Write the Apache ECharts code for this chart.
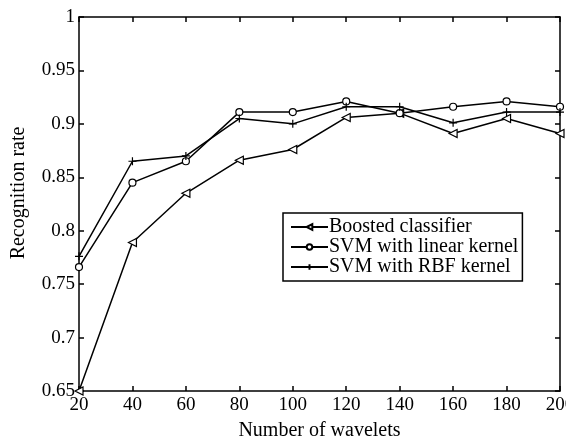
<!DOCTYPE html>
<html>
<head>
<meta charset="utf-8">
<script src="https://cdn.jsdelivr.net/npm/echarts@6/dist/echarts.min.js"></script>
<style>html,body{margin:0;padding:0;background:#fff}#c{width:566px;height:441px}</style>
</head>
<body>
<div id="c"></div>
<script>
var wavelets = [20, 40, 60, 80, 100, 120, 140, 160, 180, 200];
var boosted = [0.65, 0.789, 0.835, 0.866, 0.876, 0.906, 0.910, 0.891, 0.905, 0.891];
var svmLinear = [0.766, 0.845, 0.865, 0.911, 0.911, 0.921, 0.910, 0.916, 0.921, 0.916];
var svmRbf = [0.776, 0.865, 0.870, 0.905, 0.900, 0.916, 0.916, 0.901, 0.911, 0.911];
var seriesNames = ['Boosted classifier', 'SVM with linear kernel', 'SVM with RBF kernel'];
var xTitle = 'Number of wavelets';
var yTitle = 'Recognition rate';

function pairs(ys) { return wavelets.map(function (x, i) { return [x, ys[i]]; }); }
var font = 'Liberation Serif';
var plusPath = 'path://M0,-10L0,10M-10,0L10,0';

var chart = echarts.init(document.getElementById('c'));
var axisCommon = {
  axisLine: { lineStyle: { color: '#000', width: 1.5 } },
  axisTick: { inside: true, length: 5, lineStyle: { color: '#000', width: 1.5 } },
  splitLine: { show: false }
};
chart.setOption({
  animation: false,
  backgroundColor: '#fff',
  grid: { left: 79, right: 6, top: 17, bottom: 50, outerBoundsMode: 'none' },
  graphic: [{
    type: 'text', x: 19, y: 193, rotation: Math.PI / 2,
    style: { text: yTitle, fontFamily: font, fontSize: 20, fill: '#000', align: 'center', verticalAlign: 'middle' }
  }],
  legend: {
    left: 283, top: 213,
    orient: 'vertical',
    borderColor: '#000', borderWidth: 1.5,
    padding: [4, 4, 4, 7],
    itemGap: 0,
    itemWidth: 37, itemHeight: 7,
    textStyle: { fontFamily: font, fontSize: 20, lineHeight: 20, color: '#000', padding: [0, 0, 0, -4] },
    data: seriesNames
  },
  xAxis: [Object.assign({
    type: 'value', min: 20, max: 200, interval: 20,
    name: xTitle, nameLocation: 'middle', nameGap: 30,
    nameTextStyle: { fontFamily: font, fontSize: 20, color: '#000' },
    axisLabel: { fontFamily: font, fontSize: 19, color: '#000', margin: 5 }
  }, axisCommon), Object.assign({
    type: 'value', min: 20, max: 200, interval: 20, position: 'top',
    axisLabel: { show: false }
  }, axisCommon)],
  yAxis: [Object.assign({
    type: 'value', min: 0.65, max: 1, interval: 0.05,
    axisLabel: { fontFamily: font, fontSize: 19, color: '#000', margin: 4,
      formatter: function (v) { return String(parseFloat(v.toFixed(2))); } }
  }, axisCommon), Object.assign({
    type: 'value', min: 0.65, max: 1, interval: 0.05, position: 'right',
    axisLabel: { show: false }
  }, axisCommon)],
  series: [{
    name: seriesNames[0], type: 'line', data: pairs(boosted),
    symbol: 'triangle', symbolRotate: 90, symbolSize: 8,
    lineStyle: { color: '#000', width: 1.5 },
    itemStyle: { color: '#fff', borderColor: '#000', borderWidth: 1.2 },
    clip: false
  }, {
    name: seriesNames[1], type: 'line', data: pairs(svmLinear),
    symbol: 'circle', symbolSize: 7,
    lineStyle: { color: '#000', width: 1.5 },
    itemStyle: { color: '#fff', borderColor: '#000', borderWidth: 1.2 },
    clip: false
  }, {
    name: seriesNames[2], type: 'line', data: pairs(svmRbf),
    symbol: plusPath, symbolSize: 8,
    lineStyle: { color: '#000', width: 1.5 },
    itemStyle: { color: 'none', borderColor: '#000', borderWidth: 1.2 },
    clip: false
  }]
});
</script>
</body>
</html>
